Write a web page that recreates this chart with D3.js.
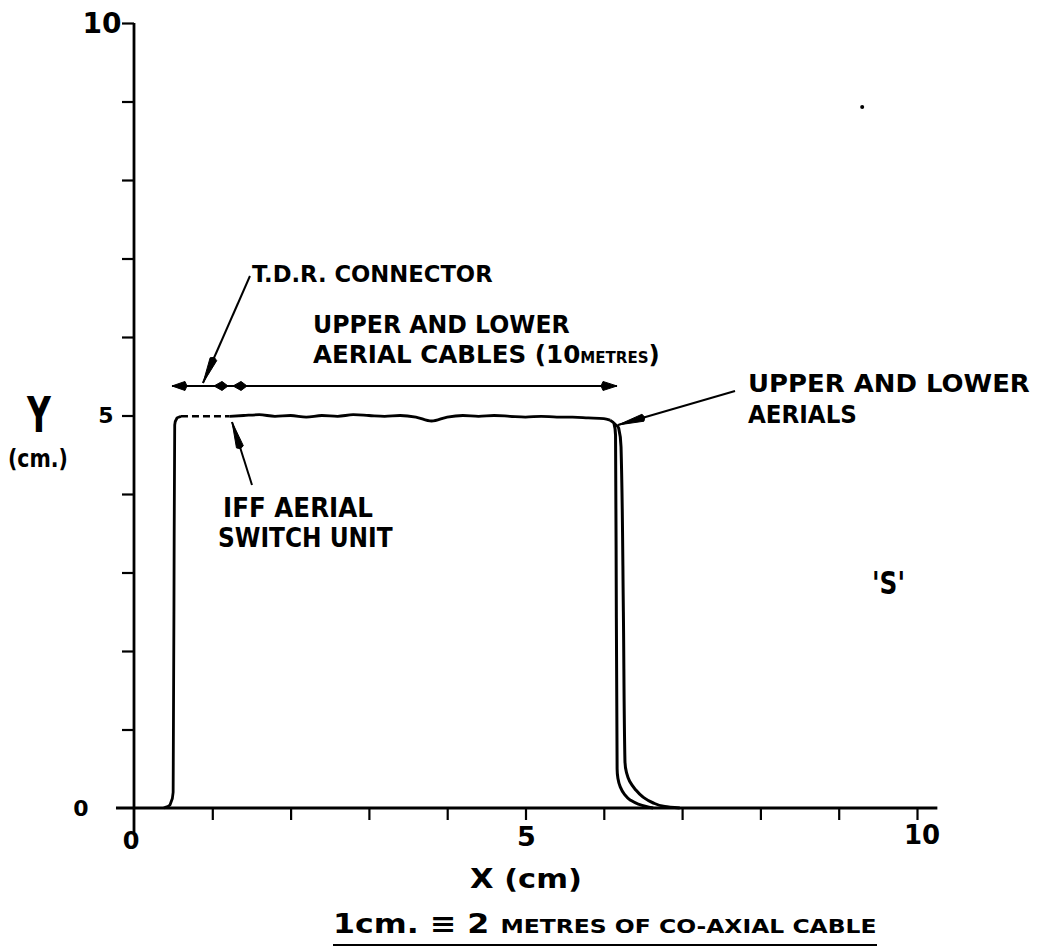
<!DOCTYPE html>
<html>
<head>
<meta charset="utf-8">
<script src="https://cdn.jsdelivr.net/npm/d3@7"></script>
<style>
  html, body { margin: 0; padding: 0; background: #fff; }
  svg { display: block; }
  text { font-family: "DejaVu Sans", sans-serif; font-weight: bold; fill: #000; }
</style>
</head>
<body>
<svg id="chart" width="1037" height="951"></svg>
<script>
// ---------------- data ----------------
const xTickValues = [1, 2, 3, 4, 5, 6, 7, 8, 9, 10];
const yTickValues = [1, 2, 3, 4, 5, 6, 7, 8, 9, 10];
const xTickLabels = [0, 5, 10];
const yTickLabels = [0, 5, 10];

// step rise at the T.D.R. connector
const riseX = [0.38, 0.46, 0.50, 0.51, 0.52, 0.55, 0.60];
const riseY = [0.00, 0.04, 0.20, 2.50, 4.88, 4.97, 4.99];
// IFF aerial switch unit (dashed)
const switchX = [0.60, 1.22];
const switchY = [4.99, 4.99];
// upper and lower aerial cables
const cableX = [1.22, 1.40, 1.60, 1.80, 2.00, 2.20, 2.40, 2.60, 2.80, 3.00, 3.20, 3.40, 3.60, 3.80, 4.00, 4.20, 4.40, 4.60, 4.80, 5.00, 5.20, 5.40, 5.60, 5.80, 6.00, 6.08];
const cableY = [4.99, 5.00, 5.01, 4.99, 5.00, 4.98, 5.00, 4.99, 5.01, 5.00, 4.99, 5.00, 4.98, 4.93, 4.98, 5.00, 4.99, 5.00, 4.99, 4.98, 4.99, 4.98, 4.98, 4.97, 4.96, 4.94];
// the two aerials
const aerial1X = [6.08, 6.13, 6.15, 6.16, 6.17, 6.18, 6.21, 6.26, 6.34, 6.44, 6.54, 6.63];
const aerial1Y = [4.94, 4.90, 4.75, 2.50, 0.50, 0.38, 0.27, 0.18, 0.10, 0.05, 0.02, 0.00];
const aerial2X = [6.13, 6.19, 6.22, 6.25, 6.27, 6.29, 6.33, 6.40, 6.50, 6.62, 6.78, 6.97];
const aerial2Y = [4.90, 4.84, 4.60, 2.50, 0.60, 0.45, 0.34, 0.24, 0.14, 0.07, 0.02, 0.00];

// annotation geometry (data units)
const dimY = 5.376;
const dimLeft = 0.485, dimRight = 6.169;
const dimJoints = [1.124, 1.367];
const leaders = [
  { from: [1.481, 6.777], to: [0.881, 5.414] },  // T.D.R. connector
  { from: [7.676, 5.312], to: [6.181, 4.879] },  // upper and lower aerials
  { from: [1.507, 4.115], to: [1.252, 4.917] }   // IFF aerial switch unit
];
const strayDot = [9.30, 8.93];

// ---------------- drawing ----------------
const svg = d3.select("#chart");
const x = d3.scaleLinear().domain([0, 10]).range([134, 917]);
const y = d3.scaleLinear().domain([0, 10]).range([808, 23]);

const ink = "#000";

// axes
const xAxisG = svg.append("g").attr("transform", `translate(0,${y(0)})`)
  .call(d3.axisBottom(x).tickValues(xTickValues).tickSize(12).tickFormat(""));
xAxisG.select(".domain").remove();
xAxisG.selectAll(".tick line").attr("stroke", ink).attr("stroke-width", 2.2);

const yAxisG = svg.append("g").attr("transform", `translate(${x(0)},0)`)
  .call(d3.axisLeft(y).tickValues(yTickValues).tickSize(12).tickFormat(""));
yAxisG.select(".domain").remove();
yAxisG.selectAll(".tick line").attr("stroke", ink).attr("stroke-width", 2.2);

svg.append("line")
  .attr("x1", x(-0.23)).attr("x2", x(10.26))
  .attr("y1", y(0)).attr("y2", y(0))
  .attr("stroke", ink).attr("stroke-width", 2.8);
svg.append("line")
  .attr("x1", x(0)).attr("x2", x(0))
  .attr("y1", y(10)).attr("y2", y(-0.31))
  .attr("stroke", ink).attr("stroke-width", 2.8);

// tick labels
const xLabelDy = { 0: 41, 5: 38, 10: 36 };
const xLabelSize = { 0: 24, 5: 27, 10: 26 };
xTickLabels.forEach(v => {
  svg.append("text")
    .attr("x", x(v) + (v === 10 ? 5 : (v === 0 ? -3 : 1)))
    .attr("y", y(0) + xLabelDy[v])
    .attr("text-anchor", "middle")
    .attr("font-size", xLabelSize[v])
    .text(v);
});
const yLabelX = { 0: 81, 5: 106, 10: 102 };
const yLabelSize = { 0: 22, 5: 22, 10: 28 };
yTickLabels.forEach(v => {
  svg.append("text")
    .attr("x", yLabelX[v])
    .attr("y", y(v) + yLabelSize[v] * 0.36)
    .attr("text-anchor", "middle")
    .attr("font-size", yLabelSize[v])
    .text(v);
});

// traces
const line = (xs, ys, curve) => d3.line().curve(curve)(xs.map((v, i) => [x(v), y(ys[i])]));

svg.append("path").attr("d", line(riseX, riseY, d3.curveMonotoneY))
  .attr("fill", "none").attr("stroke", ink).attr("stroke-width", 2.8);
svg.append("path").attr("d", line(switchX, switchY, d3.curveLinear))
  .attr("fill", "none").attr("stroke", ink).attr("stroke-width", 2.6)
  .attr("stroke-dasharray", "7,4");
svg.append("path").attr("d", line(cableX, cableY, d3.curveMonotoneX))
  .attr("fill", "none").attr("stroke", ink).attr("stroke-width", 2.8).attr("stroke-linejoin", "round");
svg.append("path").attr("d", line(aerial1X, aerial1Y, d3.curveMonotoneY))
  .attr("fill", "none").attr("stroke", ink).attr("stroke-width", 3);
svg.append("path").attr("d", line(aerial2X, aerial2Y, d3.curveMonotoneY))
  .attr("fill", "none").attr("stroke", ink).attr("stroke-width", 3);

// arrowhead helper: tip at (tx,ty), pointing along direction from (fx,fy)
function arrowHead(fx, fy, tx, ty, len, half) {
  const dx = tx - fx, dy = ty - fy, d = Math.hypot(dx, dy);
  const ux = dx / d, uy = dy / d;
  const bx = tx - ux * len, by = ty - uy * len;
  const px = -uy * half, py = ux * half;
  svg.append("path")
    .attr("d", `M${tx},${ty}L${bx + px},${by + py}L${bx - ux * 2},${by - uy * 2}L${bx - px},${by - py}Z`)
    .attr("fill", ink).attr("stroke", ink).attr("stroke-width", 1).attr("stroke-linejoin", "round");
}

// dimension line
svg.append("line")
  .attr("x1", x(dimLeft)).attr("x2", x(dimRight))
  .attr("y1", y(dimY)).attr("y2", y(dimY))
  .attr("stroke", ink).attr("stroke-width", 2);
arrowHead(x(dimLeft) + 20, y(dimY), x(dimLeft), y(dimY), 13, 4.5);
arrowHead(x(dimRight) - 20, y(dimY), x(dimRight), y(dimY), 14, 4.5);
dimJoints.forEach(j => {
  const cx = x(j), cy = y(dimY);
  svg.append("path")
    .attr("d", `M${cx - 8},${cy}L${cx},${cy - 4.5}L${cx + 6},${cy}L${cx},${cy + 4.5}Z`)
    .attr("fill", ink).attr("stroke", ink).attr("stroke-linejoin", "round");
});

// leaders
leaders.forEach(l => {
  const fx = x(l.from[0]), fy = y(l.from[1]), tx = x(l.to[0]), ty = y(l.to[1]);
  svg.append("line").attr("x1", fx).attr("y1", fy).attr("x2", tx).attr("y2", ty)
    .attr("stroke", ink).attr("stroke-width", 2);
  arrowHead(fx, fy, tx, ty, 26, 3.6);
});

// stray dot
svg.append("circle").attr("cx", x(strayDot[0])).attr("cy", y(strayDot[1])).attr("r", 2).attr("fill", ink);

// text helper: fit into target width, left x, baseline
function fitText(parts, x0, baseline, width) {
  const t = svg.append("text").attr("x", 0).attr("y", 0);
  parts.forEach(p => {
    t.append("tspan").attr("font-size", p.size).text(p.t);
  });
  const w = t.node().getBBox().width;
  t.attr("transform", `translate(${x0},${baseline}) scale(${width / w},1)`);
  return t;
}

fitText([{ t: "T.D.R. CONNECTOR", size: 23 }], 252, 282, 241);
fitText([{ t: "UPPER AND LOWER", size: 24.5 }], 313, 333, 257);
fitText([{ t: "AERIAL CABLES (10", size: 24.5 }, { t: "METRES", size: 15 }, { t: ")", size: 24.5 }], 313, 363, 347);
fitText([{ t: "UPPER AND LOWER", size: 25 }], 748, 392, 282);
fitText([{ t: "AERIALS", size: 25 }], 748, 423, 109);
fitText([{ t: "IFF AERIAL", size: 26 }], 223, 517, 150);
fitText([{ t: "SWITCH UNIT", size: 26 }], 218, 547, 175);
fitText([{ t: "'S'", size: 32 }], 872, 594, 33);

// axis titles
fitText([{ t: "Y", size: 50 }], 27, 432, 25);
fitText([{ t: "(cm.)", size: 25 }], 8, 467, 60);
fitText([{ t: "X (cm)", size: 27 }], 470, 888, 112);
fitText([{ t: "1cm. \u2261 2 ", size: 27 }, { t: "METRES OF CO-AXIAL CABLE", size: 20 }], 333, 933, 544);
svg.append("line").attr("x1", 333).attr("x2", 877).attr("y1", 945).attr("y2", 945)
  .attr("stroke", ink).attr("stroke-width", 2);
</script>
</body>
</html>
